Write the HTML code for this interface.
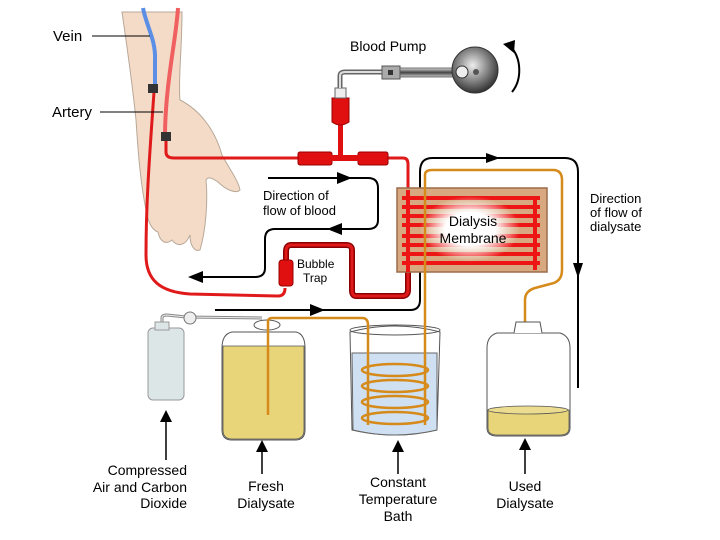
<!DOCTYPE html>
<html><head><meta charset="utf-8"><style>
html,body{margin:0;padding:0;background:#fff;}
svg{display:block;font-family:"Liberation Sans",Arial,sans-serif;}
</style></head><body>
<svg width="720" height="540" viewBox="0 0 720 540" xmlns="http://www.w3.org/2000/svg">
<defs>
<radialGradient id="pg" cx="0.45" cy="0.4" r="0.6"><stop offset="0" stop-color="#eee"/><stop offset="1" stop-color="#333"/></radialGradient>
<linearGradient id="bar" x1="0" y1="0" x2="0" y2="1"><stop offset="0" stop-color="#ddd"/><stop offset="0.5" stop-color="#444"/><stop offset="1" stop-color="#ccc"/></linearGradient>
<radialGradient id="glow" cx="0.5" cy="0.5" r="0.5"><stop offset="0.5" stop-color="#fff"/><stop offset="1" stop-color="#fff" stop-opacity="0"/></radialGradient>
</defs>
<!-- hand -->
<path d="M122,12 L182,12 C182,50 178,80 180,100 C200,110 215,130 222,155 C230,170 238,180 240,190 C236,194 226,190 218,182 C212,178 208,176 206,180 C208,200 206,230 200,250 C194,252 190,245 190,235 C186,245 178,248 172,240 C166,245 160,242 158,232 C152,230 148,222 146,210 C140,180 138,150 136,120 C132,80 126,40 122,12 Z" fill="#f3dbc8" stroke="#b8a898" stroke-width="1"/>
<!-- vein -->
<path d="M143,8 C146,25 156,40 155,60 L155,86" fill="none" stroke="#5b8fe6" stroke-width="4"/>
<path d="M178,8 C176,40 166,80 165,132" fill="none" stroke="#f06060" stroke-width="4"/>
<!-- red return line -->
<path d="M154,92 C150,150 146,200 146,255 C146,280 160,292 190,294 L278,296 Q285,296 285,288" fill="none" stroke="#e01a1a" stroke-width="3"/>
<rect x="148" y="84" width="10" height="9" fill="#333"/>
<!-- artery line -->
<path d="M166,140 L166,152 Q166,158 174,158 L390,158 L403,158 Q408,158 408,164 L408,190" fill="none" stroke="#e01a1a" stroke-width="3"/>
<rect x="161" y="132" width="10" height="9" fill="#333"/>
<!-- T and pump connection -->
<rect x="298" y="152" width="34" height="13" rx="2" fill="#e01010" stroke="#900" stroke-width="1"/>
<rect x="358" y="152" width="30" height="13" rx="2" fill="#e01010" stroke="#900" stroke-width="1"/>
<rect x="330" y="155" width="30" height="6" fill="#e01010"/>
<rect x="338" y="118" width="5" height="40" fill="#e01010"/>
<path d="M332,98 L349,98 L349,122 Q340,128 332,122 Z" fill="#e01010" stroke="#900" stroke-width="1"/>
<rect x="335" y="88" width="11" height="10" fill="#eee" stroke="#666"/>
<path d="M340,88 L340,76 Q340,72 345,72 L382,72" fill="none" stroke="#666" stroke-width="5"/>
<path d="M340,88 L340,76 Q340,72 345,72 L382,72" fill="none" stroke="#ddd" stroke-width="2"/>
<rect x="382" y="66" width="18" height="13" fill="#aaa" stroke="#555"/>
<rect x="388" y="70" width="5" height="5" fill="#333"/>
<rect x="400" y="68" width="58" height="9" fill="url(#bar)" stroke="#555" stroke-width="0.8"/>
<circle cx="475" cy="70" r="23" fill="url(#pg)" stroke="#333"/>
<circle cx="462" cy="72" r="6" fill="#eee" stroke="#333"/>
<circle cx="476" cy="72" r="3" fill="#555"/>
<path d="M512,92 C522,80 522,58 510,46" fill="none" stroke="#000" stroke-width="2"/>
<path d="M503,44 L515,40 L514,53 Z" fill="#000"/>
<text x="350" y="51" font-size="14">Blood Pump</text>
<!-- bubble trap tube -->
<path d="M408,270 L408,290 Q408,296 402,296 L356,296 Q352,296 352,290 L352,250 Q352,245 346,245 L291,245 Q286,245 286,252 L286,262" fill="none" stroke="#8a0000" stroke-width="6"/>
<path d="M408,270 L408,290 Q408,296 402,296 L356,296 Q352,296 352,290 L352,250 Q352,245 346,245 L291,245 Q286,245 286,252 L286,262" fill="none" stroke="#e01a1a" stroke-width="3"/>
<rect x="279" y="260" width="14" height="26" rx="3" fill="#e01010" stroke="#900"/>
<text x="297" y="268" font-size="12">Bubble</text>
<text x="303" y="282" font-size="12">Trap</text>
<!-- blood direction arrows -->
<path d="M268,178 H368 Q378,178 378,188 V220 Q378,229 368,229 H275 Q265,229 265,239 V268 Q265,277 255,277 H195" fill="none" stroke="#000" stroke-width="2"/>
<path d="M337,172 L352,178 L337,184 Z" fill="#000"/>
<path d="M342,223 L327,229 L342,235 Z" fill="#000"/>
<path d="M203,271 L188,277 L203,283 Z" fill="#000"/>
<text x="263" y="200" font-size="13">Direction of</text>
<text x="263" y="215" font-size="13">flow of blood</text>
<!-- dialysate loop -->
<path d="M215,310 H410 Q420,310 420,300 V172 Q420,158 432,158 H565 Q578,158 578,172 V388" fill="none" stroke="#000" stroke-width="2"/>
<path d="M310,304 L325,310 L310,316 Z" fill="#000"/>
<path d="M486,153 L500,158 L486,163 Z" fill="#000"/>
<path d="M573,263 L578,278 L583,263 Z" fill="#000"/>
<text x="590" y="203" font-size="13">Direction</text>
<text x="590" y="217" font-size="13">of flow of</text>
<text x="590" y="231" font-size="13">dialysate</text>
<!-- membrane -->
<rect x="397" y="188" width="150" height="84" fill="#d8a980" stroke="#9a6c48" stroke-width="1.5"/>
<g stroke="#ee1515" stroke-width="4">
<line x1="402" y1="198" x2="540" y2="198"/><line x1="402" y1="207" x2="540" y2="207"/><line x1="402" y1="216" x2="540" y2="216"/><line x1="402" y1="225" x2="540" y2="225"/><line x1="402" y1="236" x2="540" y2="236"/><line x1="402" y1="245" x2="540" y2="245"/><line x1="402" y1="254" x2="540" y2="254"/><line x1="402" y1="263" x2="540" y2="263"/>
<line x1="408" y1="190" x2="408" y2="272"/><line x1="535" y1="196" x2="535" y2="270"/>
</g>
<rect x="420" y="196" width="100" height="66" fill="url(#glow)"/>
<text x="473" y="226" font-size="14" text-anchor="middle">Dialysis</text>
<text x="473" y="243" font-size="14" text-anchor="middle">Membrane</text>
<!-- gas bottle -->
<path d="M162,324 V318 Q162,315 167,315 L186,317 L262,318" fill="none" stroke="#888" stroke-width="3"/>
<path d="M162,324 V318 Q162,315 167,315 L186,317 L262,318" fill="none" stroke="#eee" stroke-width="1"/>
<circle cx="190" cy="318" r="6" fill="#eee" stroke="#777"/>
<rect x="148" y="328" width="36" height="72" rx="5" fill="#dce6e6" stroke="#999"/>
<rect x="155" y="322" width="14" height="8" fill="#dce6e6" stroke="#999"/>
<!-- fresh dialysate jar -->
<path d="M232,332 L296,332 Q305,334 305,348 L305,430 Q305,440 295,440 L232,440 Q222,440 222,430 L222,348 Q222,334 232,332 Z" fill="#fff" stroke="#555"/>
<path d="M223,346 L304,346 L304,430 Q304,439 295,439 L232,439 Q223,439 223,430 Z" fill="#e8d57a" stroke="#555" stroke-width="0.8"/>
<ellipse cx="267" cy="325" rx="13" ry="5" fill="#fff" stroke="#555"/>
<!-- beaker -->
<path d="M350,332 Q395,320 440,332 L437,430 Q395,440 352,430 Z" fill="#fff" stroke="#555"/>
<path d="M352,353 L437,353 L437,430 Q395,440 353,430 Z" fill="#cfe0f2" stroke="#666"/>
<ellipse cx="395" cy="330" rx="45" ry="5" fill="none" stroke="#555"/>
<g fill="none" stroke="#d58a1a" stroke-width="2.5">
<ellipse cx="395" cy="370" rx="33" ry="6"/><ellipse cx="395" cy="386" rx="33" ry="6"/><ellipse cx="395" cy="402" rx="33" ry="6"/><ellipse cx="395" cy="418" rx="33" ry="6"/>
<path d="M268,415 V322 Q268,318 272,318 H362 Q368,318 368,325 V425"/>
<path d="M425,425 V175 Q425,170 432,170 H553 Q562,170 562,180 V270 Q562,282 550,284 L535,288 Q525,291 525,300 V412"/>
</g>
<!-- used jar -->
<path d="M497,333 L560,333 Q570,336 570,348 L570,428 Q570,436 560,436 L497,436 Q487,436 487,428 L487,348 Q487,336 497,333 Z" fill="#fff" stroke="#555"/>
<path d="M488,410 L569,410 L569,428 Q569,435 560,435 L497,435 Q488,435 488,428 Z" fill="#e8d57a" stroke="#555" stroke-width="0.8"/>
<ellipse cx="528" cy="410" rx="40" ry="4" fill="#ecdc90" stroke="#555" stroke-width="0.8"/>
<path d="M514,333 L516,322 L540,322 L542,333" fill="#fff" stroke="#555"/>
<!-- labels -->
<text x="53" y="41" font-size="15">Vein</text>
<line x1="92" y1="36" x2="150" y2="36" stroke="#000"/>
<text x="52" y="117" font-size="15">Artery</text>
<line x1="100" y1="112" x2="163" y2="112" stroke="#000"/>
<g stroke="#000" stroke-width="1.5">
<line x1="166" y1="460" x2="166" y2="418"/><line x1="262" y1="474" x2="262" y2="448"/><line x1="398" y1="474" x2="398" y2="448"/><line x1="525" y1="474" x2="525" y2="446"/>
</g>
<path d="M160,422 L166,410 L172,422 Z"/><path d="M256,452 L262,440 L268,452 Z"/><path d="M392,452 L398,440 L404,452 Z"/><path d="M519,450 L525,438 L531,450 Z"/>
<g font-size="14">
<text x="187" y="475" text-anchor="end">Compressed</text>
<text x="187" y="492" text-anchor="end">Air and Carbon</text>
<text x="187" y="508" text-anchor="end">Dioxide</text>
<text x="266" y="491" text-anchor="middle">Fresh</text>
<text x="266" y="508" text-anchor="middle">Dialysate</text>
<text x="398" y="487" text-anchor="middle">Constant</text>
<text x="398" y="504" text-anchor="middle">Temperature</text>
<text x="398" y="521" text-anchor="middle">Bath</text>
<text x="525" y="491" text-anchor="middle">Used</text>
<text x="525" y="508" text-anchor="middle">Dialysate</text>
</g>
</svg>
</body></html>
